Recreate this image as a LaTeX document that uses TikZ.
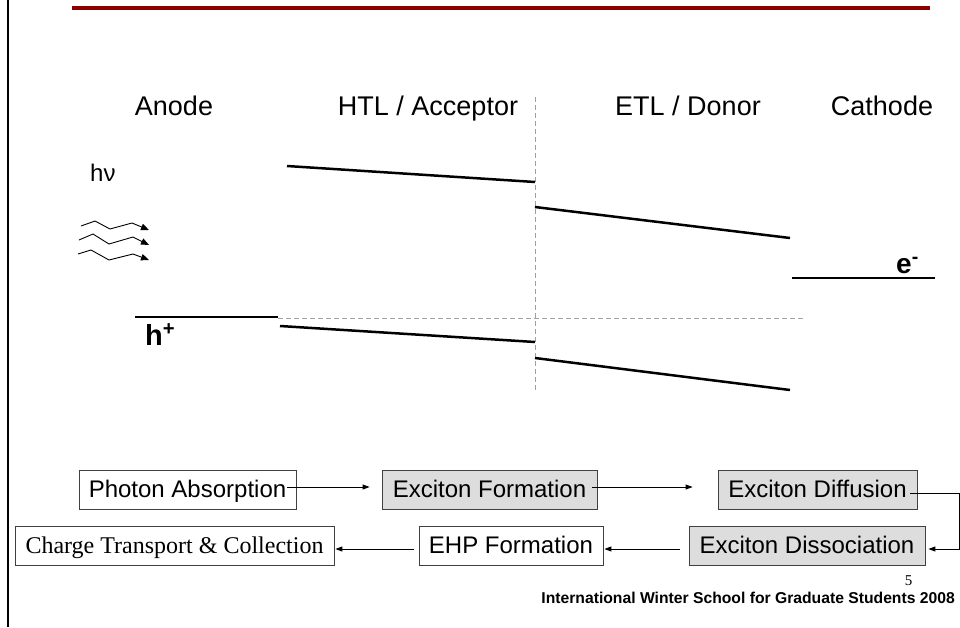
\documentclass[tikz,border=0pt]{standalone}
\usepackage{fontspec}
\setmainfont{Liberation Sans}
\newfontfamily\timesfont{Liberation Serif}
\usetikzlibrary{arrows.meta}
\definecolor{darkred}{RGB}{140,0,0}
\definecolor{boxgray}{RGB}{221,221,221}
\definecolor{dashgray}{RGB}{160,160,160}
\tikzset{
  lbl/.style={anchor=base,inner sep=0pt,font=\fontsize{27}{30}\selectfont},
  level/.style={line width=2.5pt,black},
  guide/.style={line width=1pt,dashgray,dash pattern=on 5pt off 3pt},
  photon/.style={line width=0.9pt,-{Triangle[length=8pt,width=6.5pt]}},
  procbox/.style={draw=black!75,line width=0.8pt,inner sep=0pt,minimum height=39pt,
    text height=18pt,text depth=3pt,font=\fontsize{24}{28}\selectfont},
  graybox/.style={procbox,fill=boxgray},
  flow/.style={line width=0.9pt,-{Triangle[length=7pt,width=5pt]}}
}
\begin{document}
\begin{tikzpicture}[x=1pt,y=-1pt]
\useasboundingbox (0,0) rectangle (960,627);
% frame lines
\draw[line width=2.5pt] (8,0) -- (8,627);
\draw[line width=3.5pt,darkred] (72,8) -- (930,8);
% layer labels
\node[lbl] (anode) at (174,115) {Anode};
\node[lbl] (htl) at (428,115) {HTL / Acceptor};
\node[lbl] (etl) at (688,115) {ETL / Donor};
\node[lbl] (cath) at (882,115) {Cathode};
% guides
\draw[guide] (535,97) -- (535,390);
\draw[guide] (278,318) -- (805,318);
% energy levels
\coordinate (hl1) at (287,166); \coordinate (hl2) at (535,182);
\coordinate (el1) at (535,207); \coordinate (el2) at (790,238);
\coordinate (c1) at (792,278); \coordinate (c2) at (935,278);
\coordinate (a1) at (135,317); \coordinate (a2) at (278,317);
\coordinate (hh1) at (280,326); \coordinate (hh2) at (535,342);
\coordinate (eh1) at (535,358); \coordinate (eh2) at (790,390);
\draw[level] (hl1) -- (hl2);
\draw[level] (el1) -- (el2);
\draw[level] (c1) -- (c2);
\draw[level] (a1) -- (a2);
\draw[level] (hh1) -- (hh2);
\draw[level] (eh1) -- (eh2);
% carriers
\node[anchor=base west,inner sep=0pt,font=\fontsize{28}{30}\selectfont\bfseries] (eminus) at (896,273) {e\textsuperscript{-}};
\node[anchor=base west,inner sep=0pt,font=\fontsize{29}{30}\selectfont\bfseries] (hplus) at (145,345) {h\textsuperscript{+}};
% photons
\node[anchor=base west,inner sep=0pt,font=\fontsize{24}{28}\selectfont] (hnu) at (90,181) {hν};
\draw[photon] (81,226) -- (95,221) -- (110,229) -- (132,223) -- (149,230);
\draw[photon] (79,240) -- (93,234) -- (109,244) -- (133,237) -- (149,245);
\draw[photon] (78,254) -- (91,250) -- (109,260) -- (133,254) -- (149,260);
% process boxes
\node[procbox,minimum width=217pt] (pa) at (187.5,489.5) {Photon Absorption};
\node[graybox,minimum width=215pt] (ef) at (489.5,489.5) {Exciton Formation};
\node[graybox,minimum width=199pt] (ed) at (817.5,489.5) {Exciton Diffusion};
\node[procbox,minimum width=319pt,font=\fontsize{24}{28}\selectfont\timesfont] (ct) at (174.5,545.5) {Charge Transport \& Collection};
\node[procbox,minimum width=184pt] (ehp) at (511,545.5) {EHP Formation};
\node[graybox,minimum width=236pt] (eds) at (807,545.5) {Exciton Dissociation};
\coordinate (elbow) at (959,0);
\coordinate (edout) at ([xshift=-7pt,yshift=-3.5pt]ed.east);
\coordinate (edsin) at ([xshift=3pt,yshift=-3.5pt]eds.east);
% flow arrows
\draw[flow] ([xshift=-9pt,yshift=2.5pt]pa.east) -- ([xshift=-12pt,yshift=2.5pt]ef.west);
\draw[flow] ([xshift=-5pt,yshift=2.5pt]ef.east) -- ([xshift=-25pt,yshift=2.5pt]ed.west);
\draw[flow] (edout) -| (elbow |- edsin) -- (edsin);
\draw[flow] ([xshift=-9pt,yshift=-3.5pt]eds.west) -- ([xshift=1pt,yshift=-3.5pt]ehp.east);
\draw[flow] ([xshift=-5pt,yshift=-3.5pt]ehp.west) -- ([xshift=1pt,yshift=-3.5pt]ct.east);
% footer
\node[anchor=base,inner sep=0pt,font=\fontsize{15}{17}\selectfont\timesfont] (page) at (908.5,585) {5};
\node[anchor=base east,inner sep=0pt,font=\fontsize{15.7}{17}\selectfont\bfseries] (footer) at (955,603) {International Winter School for Graduate Students 2008};
\end{tikzpicture}
\end{document}
